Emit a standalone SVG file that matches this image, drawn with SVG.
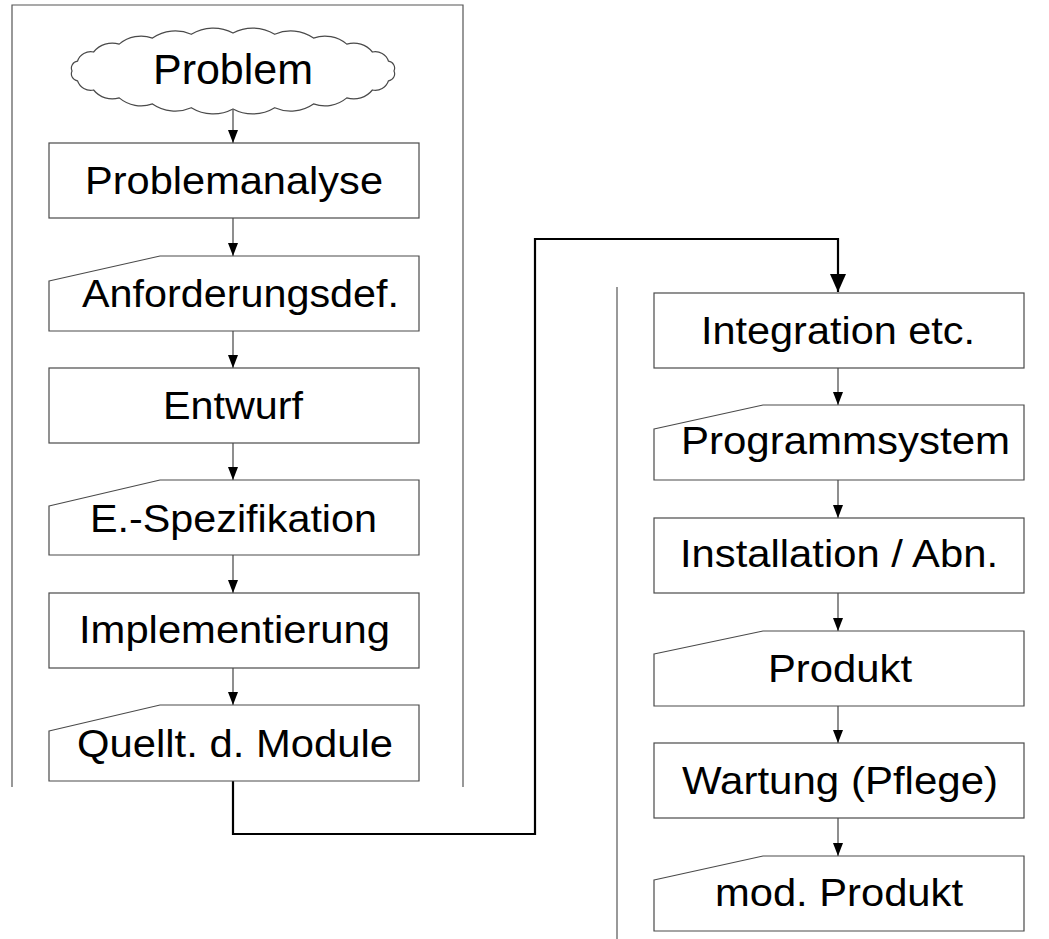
<svg xmlns="http://www.w3.org/2000/svg" width="1049" height="939" viewBox="0 0 1049 939">
<style>
.box{fill:#fff;stroke:#4a4a4a;stroke-width:1.2}
.frame{fill:none;stroke:#555;stroke-width:1.2}
.arr{fill:none;stroke:#444;stroke-width:1.2}
.conn{fill:none;stroke:#000;stroke-width:2.2}
.t{font-family:"Liberation Sans",Arial,sans-serif;font-size:38px;fill:#000}
</style>
<defs>
<marker id="ah" markerUnits="userSpaceOnUse" markerWidth="13" markerHeight="10" refX="13" refY="5" orient="auto" viewBox="0 0 13 10">
<path d="M0,0 L13,5 L0,10 z" fill="#000"/>
</marker>
<marker id="ahb" markerUnits="userSpaceOnUse" markerWidth="18" markerHeight="16" refX="18" refY="8" orient="auto" viewBox="0 0 18 16">
<path d="M0,0 L18,8 L0,16 z" fill="#000"/>
</marker>
</defs>
<rect width="1049" height="939" fill="#fff"/>
<g id="frames">
<path class="frame" d="M12,787 V5 H463 V787"/>
<path class="frame" d="M617,287 V939"/>
</g>
<g id="connectors">
<path class="arr" d="M233,110 V143" marker-end="url(#ah)"/>
<path class="arr" d="M233,218 V256" marker-end="url(#ah)"/>
<path class="arr" d="M233,331 V368" marker-end="url(#ah)"/>
<path class="arr" d="M233,443 V480" marker-end="url(#ah)"/>
<path class="arr" d="M233,555 V593" marker-end="url(#ah)"/>
<path class="arr" d="M233,668 V705" marker-end="url(#ah)"/>
<path class="conn" d="M233,781 V834 H535 V239 H838 V292" marker-end="url(#ahb)"/>
<path class="arr" d="M838,368 V405" marker-end="url(#ah)"/>
<path class="arr" d="M838,480 V518" marker-end="url(#ah)"/>
<path class="arr" d="M838,593 V631" marker-end="url(#ah)"/>
<path class="arr" d="M838,706 V743" marker-end="url(#ah)"/>
<path class="arr" d="M838,818 V856" marker-end="url(#ah)"/>
</g>
<g id="problem">
<path class="box" d="M72,71 A7,7 0 0 1 77.5,61.2 A14,14 0 0 1 93.6,52 A24,24 0 0 1 119.2,44.1 A34,34 0 0 1 152.5,38.1 A40,40 0 0 1 191.3,34.3 A42,42 0 0 1 233,33 A42,42 0 0 1 274.7,34.3 A40,40 0 0 1 313.5,38.1 A34,34 0 0 1 346.8,44.1 A24,24 0 0 1 372.4,52 A14,14 0 0 1 388.5,61.2 A7,7 0 0 1 394,71 A7,7 0 0 1 388.5,80.8 A14,14 0 0 1 372.4,90 A24,24 0 0 1 346.8,97.9 A34,34 0 0 1 313.5,103.9 A40,40 0 0 1 274.7,107.7 A42,42 0 0 1 233,109 A42,42 0 0 1 191.3,107.7 A40,40 0 0 1 152.5,103.9 A34,34 0 0 1 119.2,97.9 A24,24 0 0 1 93.6,90 A14,14 0 0 1 77.5,80.8 A7,7 0 0 1 72,71 Z"/>
<text class="t" x="153" y="84" style="font-size:42px" textLength="160" lengthAdjust="spacingAndGlyphs">Problem</text>
</g>
<g id="problemanalyse">
<rect class="box" x="49" y="143" width="370" height="75"/>
<text class="t" x="85" y="194" textLength="298" lengthAdjust="spacingAndGlyphs">Problemanalyse</text>
</g>
<g id="anforderungsdef">
<path class="box" d="M49,281 L160,256 H419 V331 H49 Z"/>
<text class="t" x="82" y="307" textLength="317" lengthAdjust="spacingAndGlyphs">Anforderungsdef.</text>
</g>
<g id="entwurf">
<rect class="box" x="49" y="368" width="370" height="75"/>
<text class="t" x="163" y="419" textLength="140" lengthAdjust="spacingAndGlyphs">Entwurf</text>
</g>
<g id="espezifikation">
<path class="box" d="M49,506 L160,480 H419 V555 H49 Z"/>
<text class="t" x="90" y="532" textLength="287" lengthAdjust="spacingAndGlyphs">E.-Spezifikation</text>
</g>
<g id="implementierung">
<rect class="box" x="49" y="593" width="370" height="75"/>
<text class="t" x="79" y="643" textLength="311" lengthAdjust="spacingAndGlyphs">Implementierung</text>
</g>
<g id="quelltext">
<path class="box" d="M49,731 L160,705 H419 V781 H49 Z"/>
<text class="t" x="77" y="757" textLength="316" lengthAdjust="spacingAndGlyphs">Quellt. d. Module</text>
</g>
<g id="integration">
<rect class="box" x="654" y="293" width="370" height="75"/>
<text class="t" x="701" y="344" textLength="274" lengthAdjust="spacingAndGlyphs">Integration etc.</text>
</g>
<g id="programmsystem">
<path class="box" d="M654,429 L763,405 H1024 V480 H654 Z"/>
<text class="t" x="681" y="454" textLength="329" lengthAdjust="spacingAndGlyphs">Programmsystem</text>
</g>
<g id="installation">
<rect class="box" x="654" y="518" width="370" height="75"/>
<text class="t" x="680" y="567" textLength="318" lengthAdjust="spacingAndGlyphs">Installation / Abn.</text>
</g>
<g id="produkt">
<path class="box" d="M654,654 L763,631 H1024 V706 H654 Z"/>
<text class="t" x="768" y="682" textLength="144" lengthAdjust="spacingAndGlyphs">Produkt</text>
</g>
<g id="wartung">
<rect class="box" x="654" y="743" width="370" height="75"/>
<text class="t" x="682" y="794" textLength="316" lengthAdjust="spacingAndGlyphs">Wartung (Pflege)</text>
</g>
<g id="modprodukt">
<path class="box" d="M654,880 L763,856 H1024 V931 H654 Z"/>
<text class="t" x="715" y="906" textLength="248" lengthAdjust="spacingAndGlyphs">mod. Produkt</text>
</g>
</svg>
